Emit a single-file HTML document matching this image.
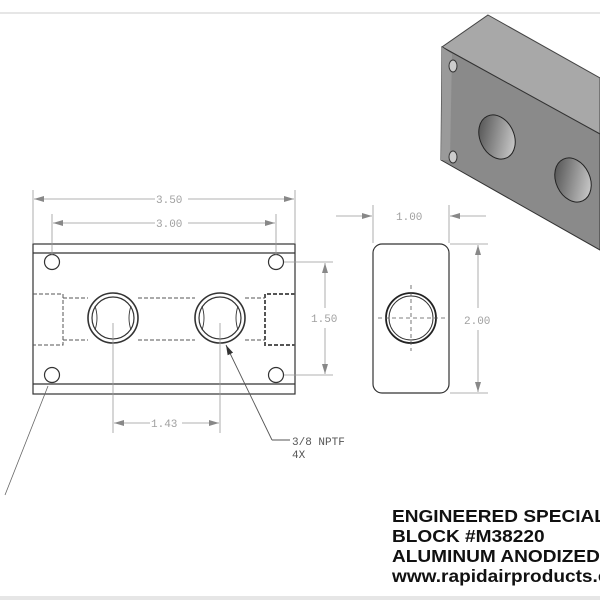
<!DOCTYPE html>
<html><head><style>
body{margin:0;background:#fff;}
svg{display:block}
.d{font-family:"Liberation Mono",monospace;font-size:11px;fill:#a0a0a0}
.t{font-family:"Liberation Sans",sans-serif;font-weight:bold;font-size:18px;fill:#111}
</style></head><body>
<svg width="600" height="600" viewBox="0 0 600 600" xmlns="http://www.w3.org/2000/svg">
<defs>
<marker id="a" viewBox="0 0 10 6" refX="10" refY="3" markerWidth="10" markerHeight="6" orient="auto-start-reverse" markerUnits="userSpaceOnUse"><path d="M0,0L10,3L0,6z" fill="#888"/></marker>
<marker id="b" viewBox="0 0 10 6" refX="10" refY="3" markerWidth="10" markerHeight="6" orient="auto" markerUnits="userSpaceOnUse"><path d="M0,0L10,3L0,6z" fill="#333"/></marker>
<linearGradient id="g1" x1="0" y1="0" x2="1" y2="1"><stop offset="0" stop-color="#444"/><stop offset="1" stop-color="#ddd"/></linearGradient>
</defs>
<line x1="0" y1="13" x2="600" y2="13" stroke="#ddd" stroke-width="1.5"/>
<rect x="0" y="596" width="600" height="4" fill="#e6e6e6"/>

<!-- 3D iso -->
<polygon points="488,15 600,78 600,134 442,47" fill="#a8a8a8" stroke="#444"/>
<polygon points="442,47 600,134 600,141 452,57" fill="#d2d2d2"/>
<polygon points="442,47 600,134 600,250 441,160" fill="#8a8a8a" stroke="#333"/>
<polygon points="442,47 452,54 450,160 441,160" fill="#9a9a9a"/>
<ellipse cx="497" cy="137" rx="17" ry="23" transform="rotate(-25 497 137)" fill="url(#g1)" stroke="#222"/>
<ellipse cx="573" cy="180" rx="17" ry="23" transform="rotate(-25 573 180)" fill="url(#g1)" stroke="#222"/>
<ellipse cx="453" cy="66" rx="4" ry="6" fill="#ccc" stroke="#333"/>
<ellipse cx="453" cy="157" rx="4" ry="6" fill="#ccc" stroke="#333"/>

<!-- front view -->
<g stroke="#333" fill="none" stroke-width="1.2">
<rect x="33" y="244" width="262" height="150"/>
<line x1="33" y1="253" x2="295" y2="253"/>
<line x1="33" y1="384" x2="295" y2="384"/>
<circle cx="52" cy="262" r="7.5"/><circle cx="276" cy="262" r="7.5"/>
<circle cx="52" cy="375" r="7.5"/><circle cx="276" cy="375" r="7.5"/>
<circle cx="113" cy="318" r="25" stroke-width="1.6"/><circle cx="113" cy="318" r="21"/>
<circle cx="220" cy="318" r="25" stroke-width="1.6"/><circle cx="220" cy="318" r="21"/>
<path d="M95,306Q99,318 95,330M131,306Q127,318 131,330M202,306Q206,318 202,330M238,306Q234,318 238,330" stroke-width="0.9"/>
</g>
<g stroke="#555" fill="none" stroke-dasharray="4,2">
<path d="M33,294H63V345H33"/><path d="M63,298H88M138,298H195M245,298H265"/>
<path d="M63,340H88M138,340H195M245,340H265"/>
<path d="M295,294H265V345H295" stroke-width="2"/>
</g>
<g stroke="#999" stroke-width="0.8" fill="none">
<line x1="33" y1="190" x2="33" y2="243"/><line x1="295" y1="190" x2="295" y2="243"/>
<line x1="52" y1="214" x2="52" y2="255"/><line x1="276" y1="214" x2="276" y2="255"/>
<line x1="113" y1="323" x2="113" y2="433"/><line x1="220" y1="323" x2="220" y2="433"/>
<line x1="284" y1="262" x2="333" y2="262"/><line x1="284" y1="375" x2="333" y2="375"/>
<line x1="155" y1="199" x2="34" y2="199" marker-end="url(#a)"/><line x1="188" y1="199" x2="294" y2="199" marker-end="url(#a)"/>
<line x1="155" y1="223" x2="53" y2="223" marker-end="url(#a)"/><line x1="188" y1="223" x2="275" y2="223" marker-end="url(#a)"/>
<line x1="150" y1="423" x2="114" y2="423" marker-end="url(#a)"/><line x1="182" y1="423" x2="219" y2="423" marker-end="url(#a)"/>
<line x1="325" y1="308" x2="325" y2="263" marker-end="url(#a)"/><line x1="325" y1="328" x2="325" y2="374" marker-end="url(#a)"/>
</g>
<text class="d" x="156" y="203">3.50</text>
<text class="d" x="156" y="227">3.00</text>
<text class="d" x="151" y="427">1.43</text>
<text class="d" x="311" y="322">1.50</text>
<line x1="48" y1="386" x2="5" y2="495" stroke="#666" stroke-width="0.8"/>
<polyline points="272,440 290,440" stroke="#555" fill="none"/>
<line x1="272" y1="440" x2="226" y2="345" stroke="#555" stroke-width="0.9" marker-end="url(#b)"/>
<text class="d" x="292" y="445" style="fill:#555">3/8 NPTF</text>
<text class="d" x="292" y="458" style="fill:#555">4X</text>

<!-- side view -->
<rect x="373" y="244" width="76" height="149" rx="9" fill="none" stroke="#333" stroke-width="1.2"/>
<circle cx="411" cy="318" r="25" fill="none" stroke="#222" stroke-width="1.8"/>
<circle cx="411" cy="318" r="22" fill="none" stroke="#333"/>
<g stroke="#555" stroke-width="0.8" stroke-dasharray="4,3"><line x1="378" y1="318" x2="445" y2="318"/><line x1="411" y1="285" x2="411" y2="351"/></g>
<g stroke="#999" stroke-width="0.8" fill="none">
<line x1="373" y1="205" x2="373" y2="243"/><line x1="449" y1="205" x2="449" y2="243"/>
<line x1="336" y1="216" x2="372" y2="216" marker-end="url(#a)"/><line x1="486" y1="216" x2="450" y2="216" marker-end="url(#a)"/>
<line x1="450" y1="244" x2="488" y2="244"/><line x1="450" y1="393" x2="488" y2="393"/>
<line x1="478" y1="308" x2="478" y2="245" marker-end="url(#a)"/><line x1="478" y1="330" x2="478" y2="392" marker-end="url(#a)"/>
</g>
<text class="d" x="396" y="220">1.00</text>
<text class="d" x="464" y="324">2.00</text>

<g transform="translate(392,0) scale(1.06,1) translate(-392,0)">
<text class="t" x="392" y="522">ENGINEERED SPECIALTY</text>
<text class="t" x="392" y="542">BLOCK #M38220</text>
<text class="t" x="392" y="562">ALUMINUM ANODIZED</text>
<text class="t" x="392" y="582">www.rapidairproducts.com</text>
</g>
</svg>
</body></html>
